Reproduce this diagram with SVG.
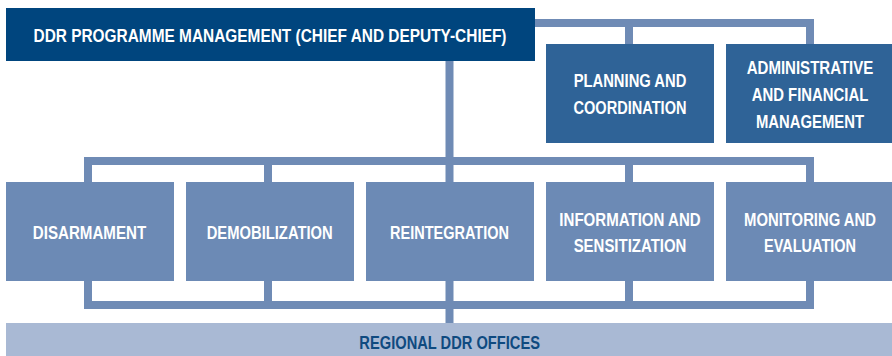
<svg xmlns="http://www.w3.org/2000/svg" width="892" height="356" viewBox="0 0 892 356">
<style>
.conn{fill:none;stroke:#6F8BB5;stroke-width:8;stroke-linejoin:miter;stroke-linecap:butt}
.lbl{font-family:"Liberation Sans",Arial,sans-serif;font-weight:bold;font-size:18px;fill:#FFFFFF;text-anchor:middle}
.top{fill:#00457E}
.mid{fill:#2F6397}
.low{fill:#6C8AB5}
.reg{fill:#A9B9D4}
</style>
<rect width="892" height="356" fill="#FFFFFF"/>
<g id="connectors">
<path class="conn" d="M535,23 H810 V44 M629,23 V44"/>
<path class="conn" d="M449.5,61 V323"/>
<path class="conn" d="M88,182 V161 H810 V182 M268,161 V182 M629,161 V182"/>
<path class="conn" d="M88,281 V305 H810 V281 M268,281 V305 M629,281 V305"/>
</g>
<g id="management">
<rect class="top" x="6" y="8" width="529" height="53"/>
<text class="lbl" transform="translate(270 0) scale(0.84 1)" x="0" y="42" textLength="563.1" lengthAdjust="spacingAndGlyphs">DDR PROGRAMME MANAGEMENT (CHIEF AND DEPUTY-CHIEF)</text>
</g>
<g id="planning">
<rect class="mid" x="546" y="44" width="168" height="99"/>
<text class="lbl" transform="translate(630 0) scale(0.84 1)" x="0" y="87.3" textLength="134.2" lengthAdjust="spacingAndGlyphs">PLANNING AND</text>
<text class="lbl" transform="translate(630 0) scale(0.84 1)" x="0" y="114.3" textLength="134.5" lengthAdjust="spacingAndGlyphs">COORDINATION</text>
</g>
<g id="administrative">
<rect class="mid" x="726" y="44" width="166" height="99"/>
<text class="lbl" transform="translate(810 0) scale(0.84 1)" x="0" y="74" textLength="150.8" lengthAdjust="spacingAndGlyphs">ADMINISTRATIVE</text>
<text class="lbl" transform="translate(810 0) scale(0.84 1)" x="0" y="101" textLength="138.9" lengthAdjust="spacingAndGlyphs">AND FINANCIAL</text>
<text class="lbl" transform="translate(810 0) scale(0.84 1)" x="0" y="127.7" textLength="128.6" lengthAdjust="spacingAndGlyphs">MANAGEMENT</text>
</g>
<g id="disarmament">
<rect class="low" x="6" y="182" width="168" height="99"/>
<text class="lbl" transform="translate(89.5 0) scale(0.84 1)" x="0" y="239.3" textLength="134.9" lengthAdjust="spacingAndGlyphs">DISARMAMENT</text>
</g>
<g id="demobilization">
<rect class="low" x="186" y="182" width="168" height="99"/>
<text class="lbl" transform="translate(269.7 0) scale(0.84 1)" x="0" y="239.3" textLength="150" lengthAdjust="spacingAndGlyphs">DEMOBILIZATION</text>
</g>
<g id="reintegration">
<rect class="low" x="366" y="182" width="168" height="99"/>
<text class="lbl" transform="translate(449.5 0) scale(0.84 1)" x="0" y="239.3" textLength="141.7" lengthAdjust="spacingAndGlyphs">REINTEGRATION</text>
</g>
<g id="information">
<rect class="low" x="546" y="182" width="168" height="99"/>
<text class="lbl" transform="translate(630 0) scale(0.84 1)" x="0" y="226" textLength="168.2" lengthAdjust="spacingAndGlyphs">INFORMATION AND</text>
<text class="lbl" transform="translate(630 0) scale(0.84 1)" x="0" y="252" textLength="134.2" lengthAdjust="spacingAndGlyphs">SENSITIZATION</text>
</g>
<g id="monitoring">
<rect class="low" x="726" y="182" width="166" height="99"/>
<text class="lbl" transform="translate(810 0) scale(0.84 1)" x="0" y="226" textLength="157.1" lengthAdjust="spacingAndGlyphs">MONITORING AND</text>
<text class="lbl" transform="translate(810 0) scale(0.84 1)" x="0" y="252" textLength="109.5" lengthAdjust="spacingAndGlyphs">EVALUATION</text>
</g>
<g id="regional">
<rect class="reg" x="6" y="323" width="886" height="33"/>
<text class="lbl" transform="translate(449.7 0) scale(0.84 1)" x="0" y="349.3" textLength="215.1" lengthAdjust="spacingAndGlyphs" style="fill:#0F4A80">REGIONAL DDR OFFICES</text>
</g>
</svg>
